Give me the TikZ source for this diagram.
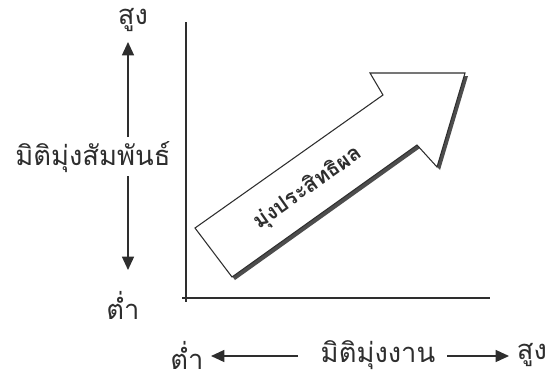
\documentclass[tikz,border=0pt]{standalone}
\usepackage{fontspec}
\newfontfamily\thaifont[Script=Thai]{Loma}
\usetikzlibrary{arrows.meta}
\definecolor{ink}{HTML}{2E2E2E}
\tikzset{
  lbl/.style={font=\thaifont\fontsize{20.5pt}{24pt}\selectfont, text=ink, inner sep=0pt},
  axis/.style={draw=ink, line width=1pt},
  arr/.style={draw=ink, line width=1pt, -{Triangle[length=10pt,width=9pt]}},
}
\begin{document}
\begin{tikzpicture}[x=0.75pt,y=-0.75pt]
\useasboundingbox (0,0) rectangle (560,390);
% axes
\coordinate (ytop) at (186,22);
\coordinate (ybot) at (186,302);
\coordinate (xl) at (182,298);
\coordinate (xr) at (490,298);
\draw[axis] (ytop) -- (ybot);
\draw[axis] (xl) -- (xr);
% vertical labels
\node[lbl] (high1) at (133,20) {สูง};
\node[lbl] (mid) at (93,157) {มิติมุ่งสัมพันธ์};
\node[lbl] (low1) at (123,305) {ต่ำ};
\coordinate (vs1) at (128,137);
\coordinate (vt1) at (128,42);
\coordinate (vs2) at (128,176);
\coordinate (vt2) at (128,270);
\draw[arr] (vs1) -- (vt1);
\draw[arr] (vs2) -- (vt2);
% horizontal labels
\node[lbl] (low2) at (187,355) {ต่ำ};
\node[lbl] (xmid) at (378,355) {มิติมุ่งงาน};
\node[lbl] (high2) at (532,355) {สูง};
\coordinate (hs1) at (298,356);
\coordinate (ht1) at (211,356);
\coordinate (hs2) at (447,356);
\coordinate (ht2) at (509,356);
\draw[arr] (hs1) -- (ht1);
\draw[arr] (hs2) -- (ht2);
% big arrow
\coordinate (p1) at (232,277);
\coordinate (p2) at (195,228);
\coordinate (p3) at (383,95);
\coordinate (p4) at (370,73);
\coordinate (p5) at (465,73);
\coordinate (p6) at (437,167);
\coordinate (p7) at (417,145);
\fill[ink!85] ([shift={(3,3)}]p1) -- ([shift={(3,3)}]p2) -- ([shift={(3,3)}]p3) -- ([shift={(3,3)}]p4) -- ([shift={(3,3)}]p5) -- ([shift={(3,3)}]p6) -- ([shift={(3,3)}]p7) -- cycle;
\filldraw[fill=white, draw=ink, line width=0.8pt, line join=miter] (p1) -- (p2) -- (p3) -- (p4) -- (p5) -- (p6) -- (p7) -- cycle;
\node[font=\thaifont\bfseries\fontsize{16pt}{19pt}\selectfont, text=ink, rotate=35.3, inner sep=0pt] (eff) at (308,188) {มุ่งประสิทธิผล};
\end{tikzpicture}
\end{document}
